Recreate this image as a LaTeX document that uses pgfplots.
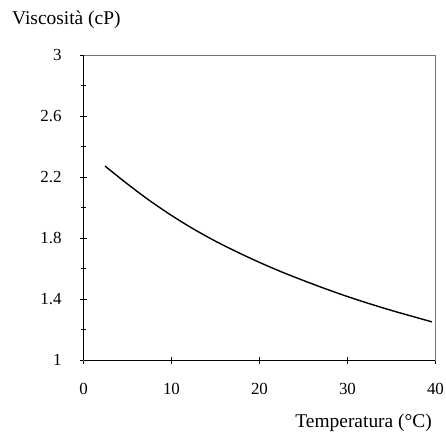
\documentclass[border=0pt]{standalone}
\usepackage{fontspec}
\setmainfont{Liberation Serif}
\usepackage{pgfplots}
\pgfplotsset{compat=1.18}

% Viscosity versus temperature
\pgfplotstableread{
T     mu
2.44  2.272
5.0   2.154
7.5   2.046
10.0  1.948
12.5  1.859
15.0  1.779
17.5  1.707
20.0  1.640
22.5  1.578
25.0  1.521
27.5  1.467
30.0  1.416
32.5  1.369
35.0  1.325
37.5  1.284
39.6  1.250
}\viscdata

\begin{document}
\begin{tikzpicture}
\useasboundingbox (-83.5bp,-74bp) rectangle (362.5bp,360bp);
\begin{axis}[
  scale only axis,
  width=352bp, height=305bp,
  xmin=0, xmax=40, ymin=1, ymax=3,
  xtick={0,10,20,30,40},
  ytick={1,1.4,1.8,2.2,2.6,3},
  yticklabels={1,1.4,1.8,2.2,2.6,3},
  minor ytick={1.2,1.6,2.0,2.4,2.8},
  xtick pos=bottom, ytick pos=left,
  tick align=center,
  major tick length=7bp, minor tick length=6bp,
  every tick/.style={black, line width=0.6pt},
  axis line style={draw=black!55, line width=0.7pt},
  /pgf/number format/assume math mode=true,
  tick label style={font=\fontsize{17}{17}\selectfont},
  yticklabel style={xshift=-15bp},
  xticklabel style={yshift=-16bp},
  clip=false,
]
\draw[black, line width=1.3pt] (rel axis cs:0,0) -- (rel axis cs:0,1);
\draw[black, line width=1.0pt] (rel axis cs:0,0) -- (rel axis cs:1,0);
\addplot[black, line width=1.4pt, smooth, tension=0.5] table[x=T, y=mu] {\viscdata};
\end{axis}
\node[anchor=base west, inner sep=0pt, font=\fontsize{19.5}{20}\selectfont] at (-71.5bp,335bp) {Viscosità (cP)};
\node[anchor=base east, inner sep=0pt, font=\fontsize{19.5}{20}\selectfont] at (348.5bp,-67bp) {Temperatura (°C)};
\end{tikzpicture}
\end{document}
